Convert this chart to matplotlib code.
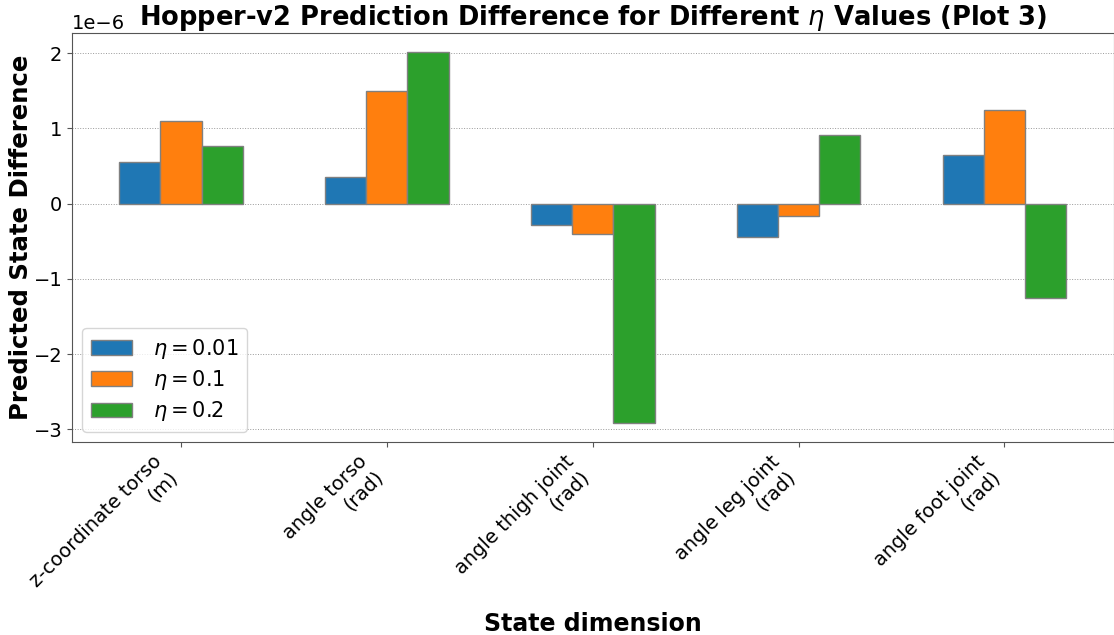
import numpy as np
import matplotlib
matplotlib.use("Agg")
import matplotlib.pyplot as plt

# state dimensions shown on the x axis
dimensions = ["z-coordinate torso\n(m)", "angle torso\n(rad)", "angle thigh joint\n(rad)",
              "angle leg joint\n(rad)", "angle foot joint\n(rad)"]
eta_labels = [r"$\eta = 0.01$", r"$\eta = 0.1$", r"$\eta = 0.2$"]

# prediction differences (units of 1e-6)
diff_eta_001 = [0.55, 0.35, -0.28, -0.45, 0.64]
diff_eta_01 = [1.10, 1.50, -0.41, -0.17, 1.25]
diff_eta_02 = [0.77, 2.02, -2.92, 0.91, -1.26]

colors = ["#1f77b4", "#ff7f0e", "#2ca02c"]

fig = plt.figure(figsize=(11.14, 6.35), dpi=100)
ax = fig.add_axes([0.0646, 0.304, 0.935, 0.644])

x = np.arange(len(dimensions))
width = 0.2
series = [diff_eta_001, diff_eta_01, diff_eta_02]
for i, vals in enumerate(series):
    ax.bar(x + (i - 1) * width, np.array(vals) * 1e-6, width, color=colors[i],
           edgecolor="gray", label=eta_labels[i], zorder=3)

ax.set_xticks(x)
ax.set_xticklabels(dimensions, rotation=45, ha="right", fontsize=14)
ax.tick_params(axis="y", labelsize=14)
ax.tick_params(color="#555555")
ax.yaxis.get_offset_text().set_fontsize(14)
ax.set_yticks([-3e-6, -2e-6, -1e-6, 0, 1e-6, 2e-6])

ax.grid(axis="y", linestyle=":", color="#999999", linewidth=0.7, zorder=0)
ax.set_axisbelow(True)
for s in ax.spines.values():
    s.set_color("#555555")

ax.set_title(r"Hopper-v2 Prediction Difference for Different $\eta$ Values (Plot 3)",
             fontsize=18.5, fontweight="bold")
ax.set_xlabel("State dimension", fontsize=17, fontweight="bold")
ax.set_ylabel("Predicted State Difference", fontsize=17.6, fontweight="bold", labelpad=0)

ax.legend(loc="lower left", fontsize=15, labelspacing=0.35, handletextpad=1.0)

fig.savefig("out.png", dpi=100)
